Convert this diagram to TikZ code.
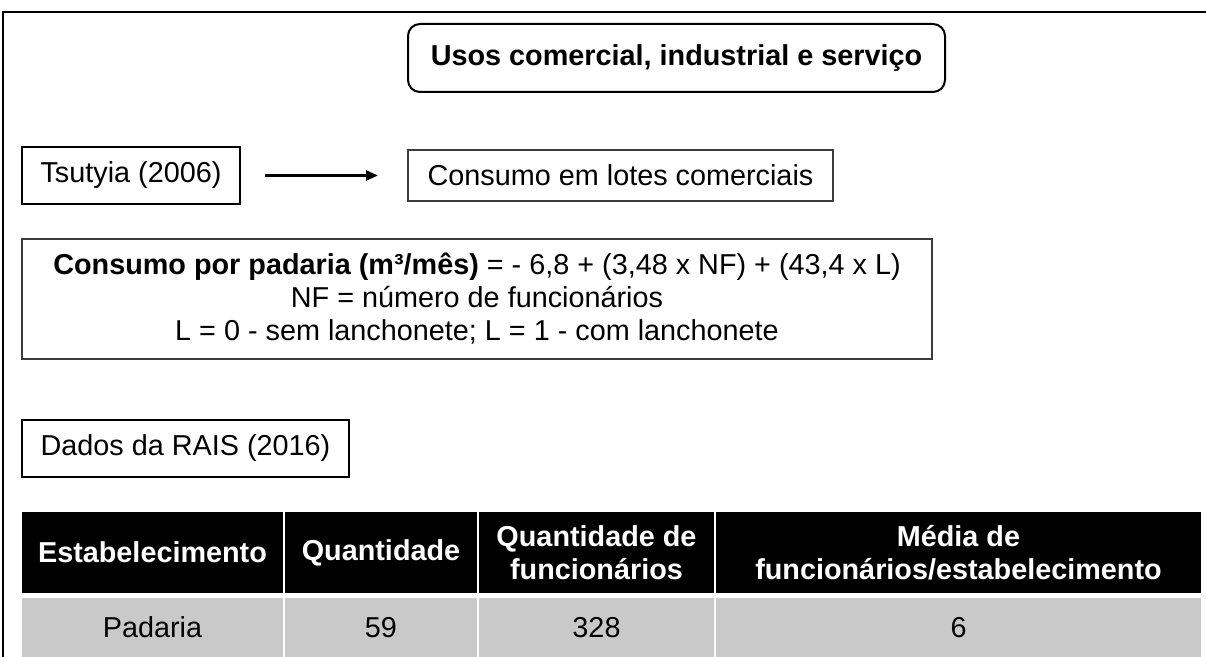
\documentclass[tikz,border=0pt]{standalone}
\usepackage{fontspec}
\setmainfont{Liberation Sans}
\usetikzlibrary{arrows.meta}
\definecolor{rowgray}{RGB}{201,201,201}
\definecolor{linegray}{RGB}{60,60,60}
\begin{document}
\begin{tikzpicture}[x=1bp,y=-1bp,
  every node/.style={font=\fontsize{28.8bp}{33bp}\selectfont, inner sep=0pt, outer sep=0pt},
  titlebox/.style={draw=black, line width=2bp, rounded corners=12bp, minimum width=537bp, minimum height=68bp, font=\fontsize{28.8bp}{33bp}\selectfont\bfseries},
  thickbox/.style={draw=black, line width=2bp},
  thinbox/.style={draw=linegray, line width=1.3bp},
  formbox/.style={draw=linegray, line width=1.5bp, align=center},
  headcell/.style={fill=black, text=white, align=center, minimum height=81bp, font=\fontsize{28.8bp}{33bp}\selectfont\bfseries},
  bodycell/.style={fill=rowgray, text=black, minimum height=59bp},
  frameline/.style={line width=2bp, draw=black},
  conn/.style={line width=2.6bp, -{Triangle[length=12bp,width=10bp]}}
]
\useasboundingbox (0,0) rectangle (1206,657);
% outer frame (top and left only)
\coordinate (fTR) at (1206,12);
\coordinate (fTL) at (3,12);
\coordinate (fBL) at (3,660);
\draw[frameline] (fTR) -- (fTL) -- (fBL);

\node[titlebox] (title) at (676.5,58) {Usos comercial, industrial e serviço};

\node[thickbox, minimum width=218bp, minimum height=56bp] (tsu) at (131,175.5) {Tsutyia (2006)};
\node[thinbox, minimum width=425bp, minimum height=51bp] (cons) at (620.5,175.5) {Consumo em lotes comerciais};
\draw[conn, shorten <=25bp, shorten >=30bp] (tsu) -- (cons);

\node[formbox, minimum width=910bp, minimum height=120bp] (form) at (477,299)
  {\textbf{Consumo por padaria (m³/mês)} = - 6,8 + (3,48 x NF) + (43,4 x L)\\
   NF = número de funcionários\\
   L = 0 - sem lanchonete; L = 1 - com lanchonete};

\node[thickbox, minimum width=327bp, minimum height=57bp] (rais) at (185.5,448.5) {Dados da RAIS (2016)};

% table header
\node[headcell, minimum width=261bp] (h1) at (152.5,552.5) {Estabelecimento};
\node[headcell, minimum width=192bp] (h2) at (381,552.5) {Quantidade};
\node[headcell, minimum width=235bp] (h3) at (596.5,552.5) {Quantidade de\\funcionários};
\node[headcell, minimum width=485bp] (h4) at (958.5,552.5) {Média de\\funcionários/estabelecimento};
% table body
\node[bodycell, minimum width=261bp] (b1) at (152.5,627.5) {Padaria};
\node[bodycell, minimum width=192bp] (b2) at (381,627.5) {59};
\node[bodycell, minimum width=235bp] (b3) at (596.5,627.5) {328};
\node[bodycell, minimum width=485bp] (b4) at (958.5,627.5) {6};
\end{tikzpicture}
\end{document}
